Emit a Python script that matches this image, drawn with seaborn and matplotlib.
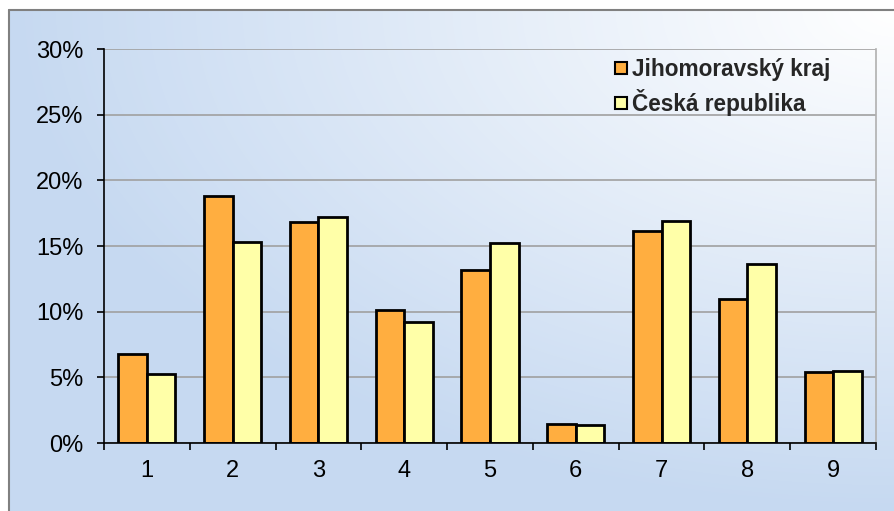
import numpy as np
import pandas as pd
import matplotlib
matplotlib.use('Agg')
import matplotlib.pyplot as plt
from matplotlib.lines import Line2D
from matplotlib.ticker import FuncFormatter, FixedLocator
import seaborn as sns

# data
kategorie = ['1', '2', '3', '4', '5', '6', '7', '8', '9']
jihomoravsky = [6.8, 18.8, 16.8, 10.15, 13.2, 1.45, 16.15, 10.95, 5.4]
cesko = [5.25, 15.3, 17.2, 9.25, 15.25, 1.35, 16.9, 13.65, 5.5]
serie = ['Jihomoravský kraj', 'Česká republika']
barvy = ['#FFAE40', '#FFFFA8']

df = pd.DataFrame({
    'kat': kategorie * 2,
    'val': np.array(jihomoravsky + cesko) / 100,
    'region': [serie[0]] * 9 + [serie[1]] * 9,
})

sns.set_theme(style='white')
plt.rcParams['font.family'] = ['Liberation Sans', 'DejaVu Sans']

W, H = 895, 511
fig = plt.figure(figsize=(W / 100, H / 100), dpi=100)

# background gradient (white in top right corner -> light blue)
bg = fig.add_axes([0, 0, 1, 1], zorder=-1)
yy, xx = np.mgrid[0:H, 0:W]
d = np.sqrt(((W - xx) / (W - 9)) ** 2 + ((yy - 10) / (H - 10)) ** 2)
t = np.clip(d, 0, 1)[..., None]
white = np.array([1.0, 1.0, 1.0])
blue = np.array([198, 217, 241]) / 255
img = white * (1 - t) + blue * t
img[(xx < 9) | (yy < 10)] = 1.0
bg.imshow(img, extent=[0, W, H, 0], aspect='auto')
bg.plot([9, W], [10, 10], color='#808080', lw=1.5)
bg.plot([9, 9], [10, H], color='#808080', lw=1.5)
bg.set_xlim(0, W)
bg.set_ylim(H, 0)
bg.axis('off')

ax = fig.add_axes([104 / W, 1 - 443 / H, (876 - 104) / W, (443 - 49) / H])
ax.patch.set_alpha(0)
sns.barplot(data=df, x='kat', y='val', hue='region', palette=barvy,
            saturation=1, edgecolor='black', linewidth=2, width=0.667,
            ax=ax, legend=False)

ax.set_ylim(0, 0.30)
ax.set_xlim(-0.5, 8.5)
ax.set_yticks(np.arange(0, 0.31, 0.05))
ax.yaxis.set_major_formatter(FuncFormatter(lambda v, p: f'{v * 100:.0f}%'))
ax.yaxis.grid(True, color='#a0a0a0', lw=1.2)
ax.set_axisbelow(True)
ax.set_xlabel('')
ax.set_ylabel('')

ax.spines['top'].set_visible(False)
ax.spines['right'].set_color('#b0b0b0')
ax.spines['right'].set_linewidth(1.2)
ax.spines['left'].set_color('black')
ax.spines['bottom'].set_color('black')
ax.spines['left'].set_linewidth(1.2)
ax.spines['bottom'].set_linewidth(1.2)

ax.tick_params(axis='y', which='major', direction='out', length=5, width=1.2,
               color='black', left=True, pad=10, labelsize=17, labelcolor='black')
ax.tick_params(axis='x', which='major', length=0, pad=12, labelsize=17,
               labelcolor='black')
ax.xaxis.set_minor_locator(FixedLocator(np.arange(-0.5, 9, 1)))
ax.tick_params(axis='x', which='minor', direction='out', length=5, width=1.2,
               color='black', bottom=True)

handles = [Line2D([], [], ls='none', marker='s', markersize=8.5,
                  markerfacecolor=c, markeredgecolor='black', markeredgewidth=1.5)
           for c in barvy]
ax.legend(handles, serie, loc='upper left', bbox_to_anchor=(594 / W, 1 - 38 / H),
          bbox_transform=fig.transFigure, frameon=False, handlelength=0.6,
          handletextpad=0.2, labelspacing=0.35,
          prop={'weight': 'bold', 'size': 16.3})

fig.savefig('out.png', dpi=100)
